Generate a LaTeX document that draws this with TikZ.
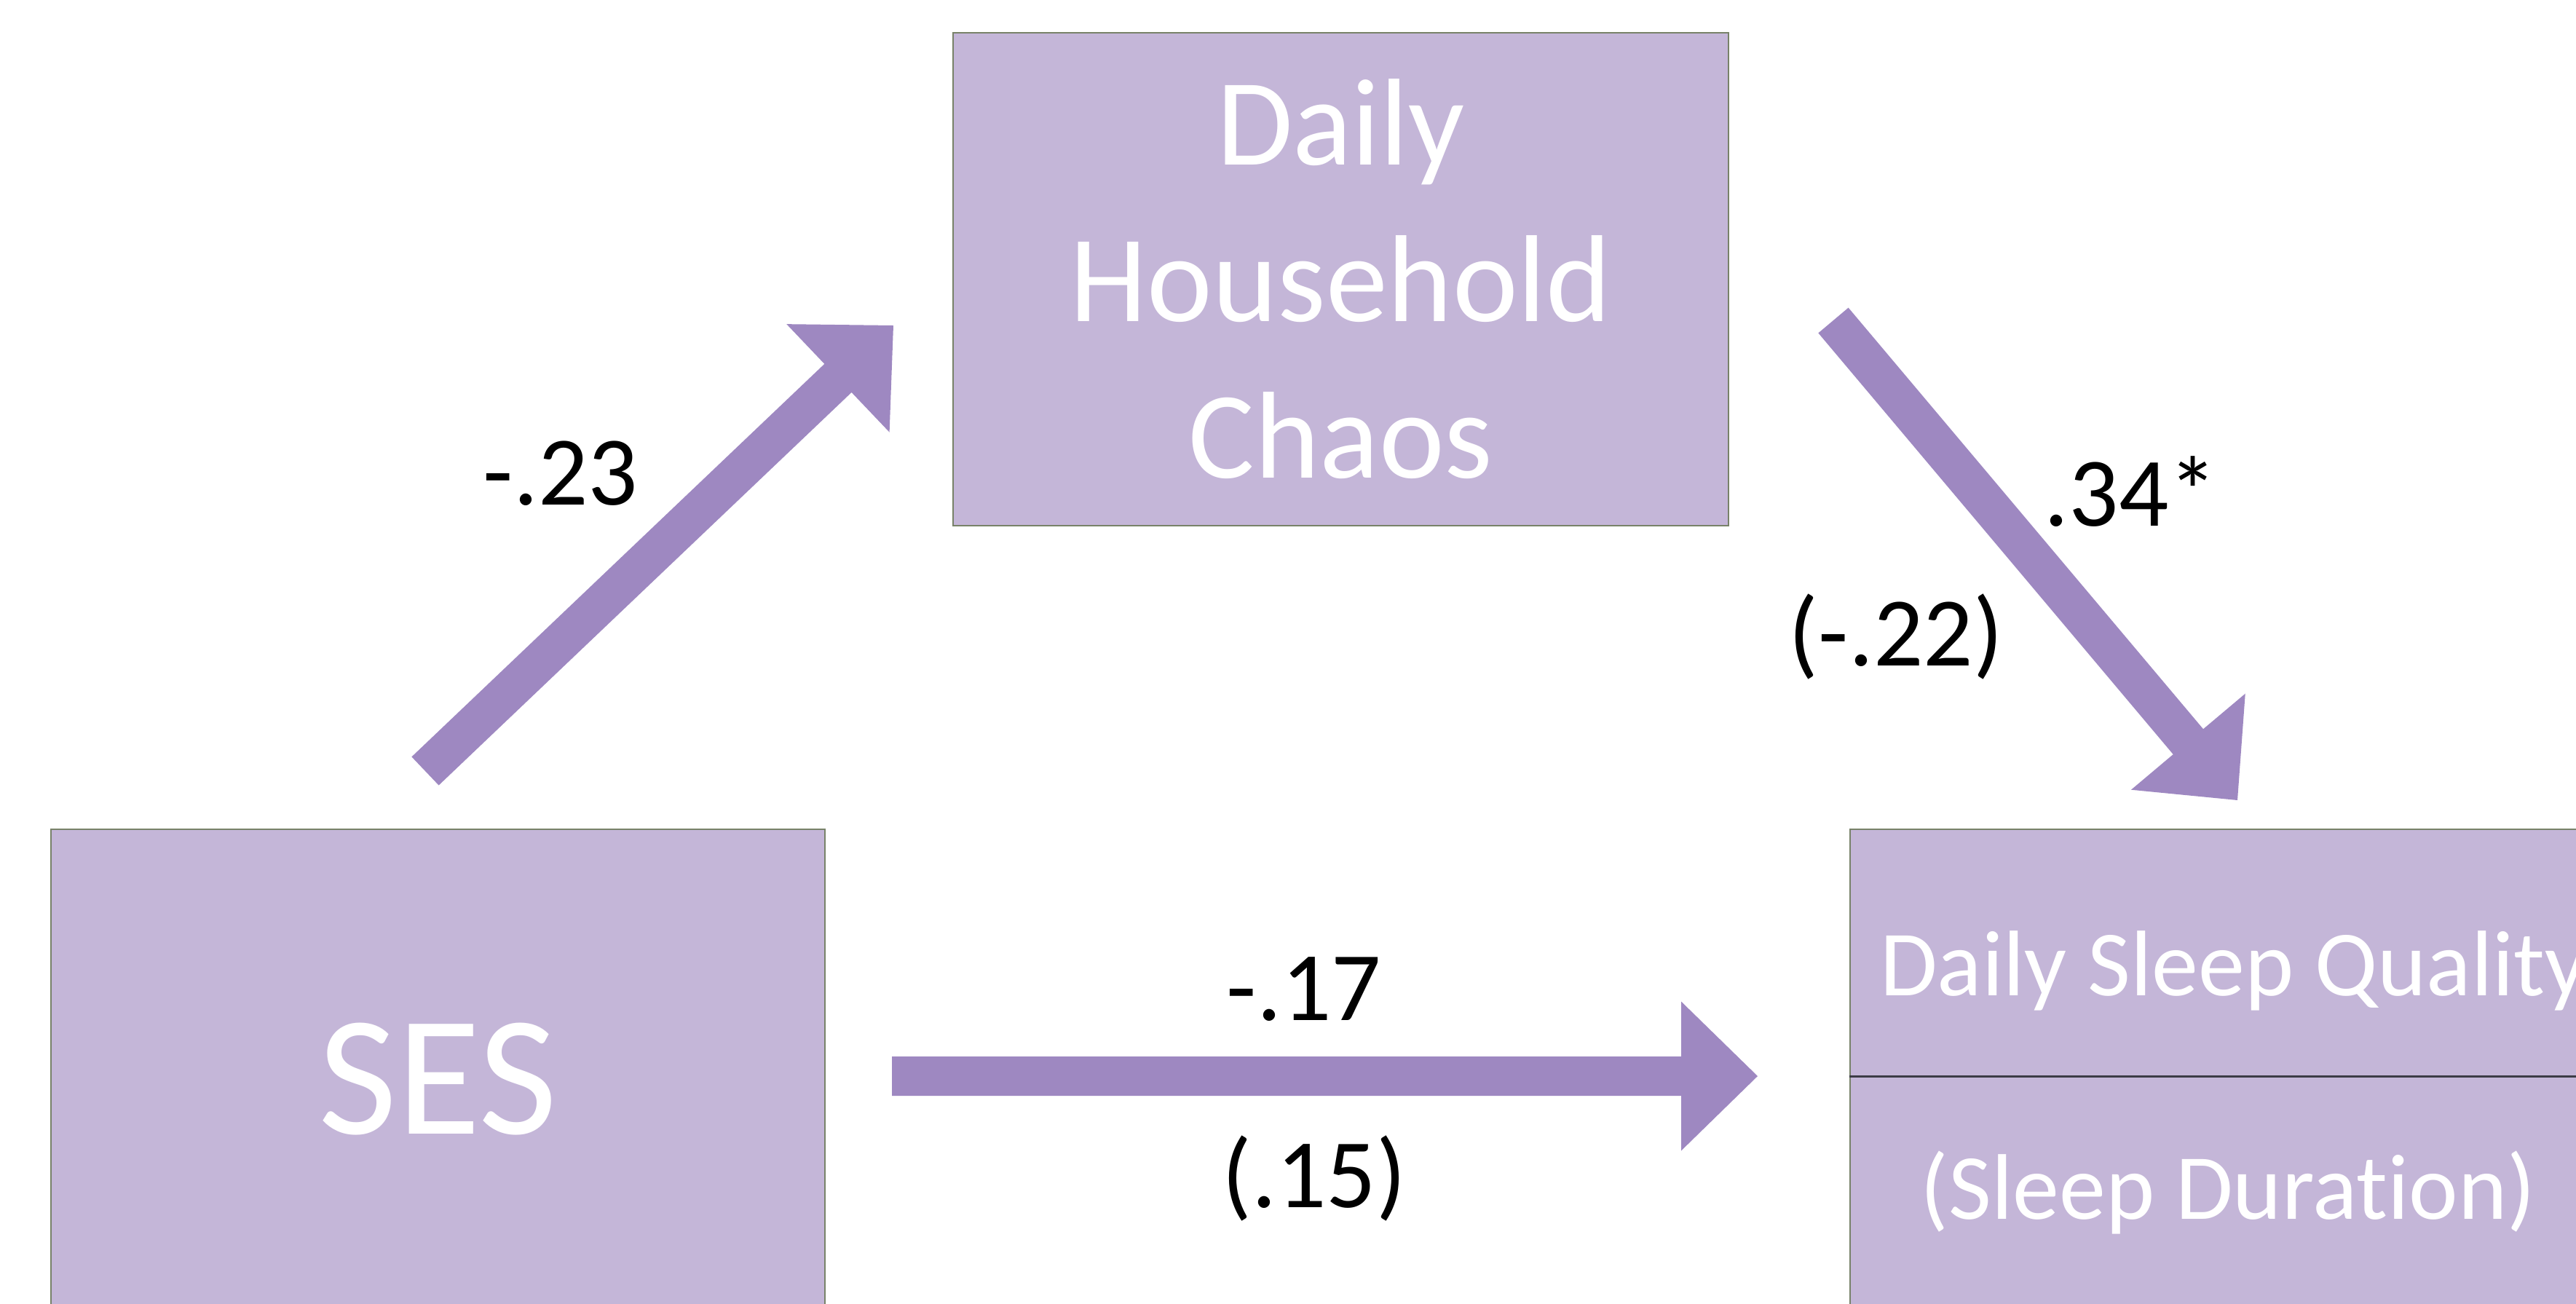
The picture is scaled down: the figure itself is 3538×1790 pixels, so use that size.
\documentclass[tikz,border=0pt]{standalone}
\usepackage{fontspec}
\setmainfont{Carlito}[Ligatures=NoCommon]
\usetikzlibrary{calc}

\definecolor{boxfill}{RGB}{196,182,216}
\definecolor{boxline}{RGB}{120,130,105}
\definecolor{arrowfill}{RGB}{158,136,193}
\definecolor{divline}{RGB}{60,60,70}

% Block arrow from coordinate #1 (tail centre) to coordinate #2 (tip)
\newcommand\blockarrow[2]{%
  \coordinate (#1-#2-h) at ($(#2)!21pt!(#1)$);
  \fill[arrowfill]
    ($(#1)!5.4pt!90:(#2)$) -- ($(#1-#2-h)!5.4pt!90:(#2)$) --
    ($(#1-#2-h)!20.5pt!90:(#2)$) -- (#2) --
    ($(#1-#2-h)!20.5pt!-90:(#2)$) -- ($(#1-#2-h)!5.4pt!-90:(#2)$) --
    ($(#1)!5.4pt!-90:(#2)$) -- cycle;
}

\begin{document}
\begin{tikzpicture}[x=0.2pt, y=-0.2pt,
  box/.style={draw=boxline, line width=0.5pt, fill=boxfill, inner sep=0pt,
    text=white, align=center},
  coef/.style={anchor=base, inner sep=0pt, text=black,
    font=\fontsize{27}{33}\selectfont},
  celltext/.style={anchor=base, inner sep=0pt, text=white,
    font=\fontsize{25.6}{31}\selectfont}]

\useasboundingbox (0,0) rectangle (3538,1790);
\clip (0,0) rectangle (3538,1790);

% Variable boxes
\node[box, minimum width=213pt, minimum height=135.4pt,
  font=\fontsize{34}{43}\selectfont] (chaos) at (1841.5,383.5)
  {Daily\\Household\\Chaos};
\node[box, minimum width=212.6pt, minimum height=137.2pt,
  font=\fontsize{47}{56}\selectfont] (ses) at (601.5,1482) {SES};
\node[box, minimum width=207.6pt, minimum height=137.2pt] (sleep) at (3060,1482) {};
\coordinate (divider) at (3060,1478);
\draw[divline, line width=0.6pt] (sleep.west |- divider) -- (sleep.east |- divider);
\node[celltext] (quality) at (3068,1367) {Daily Sleep Quality};
\node[celltext] (duration) at (3060,1674) {(Sleep Duration)};

% Paths
\coordinate (a1) at (584,1059);
\coordinate (b1) at (1227,447);
\coordinate (a2) at (2518,440);
\coordinate (b2) at (3073,1099);
\coordinate (a3) at (1225,1478);
\coordinate (b3) at (2414,1478);
\blockarrow{a1}{b1}
\blockarrow{a2}{b2}
\blockarrow{a3}{b3}

% Path coefficients
\node[coef] (c1) at (770,693) {-.23};
\node[coef] (c2) at (2927,722) {.34*};
\node[coef] (c2b) at (2604,914) {(-.22)};
\node[coef] (c3) at (1791,1401) {-.17};
\node[coef] (c3b) at (1805,1658) {(.15)};

\end{tikzpicture}
\end{document}
